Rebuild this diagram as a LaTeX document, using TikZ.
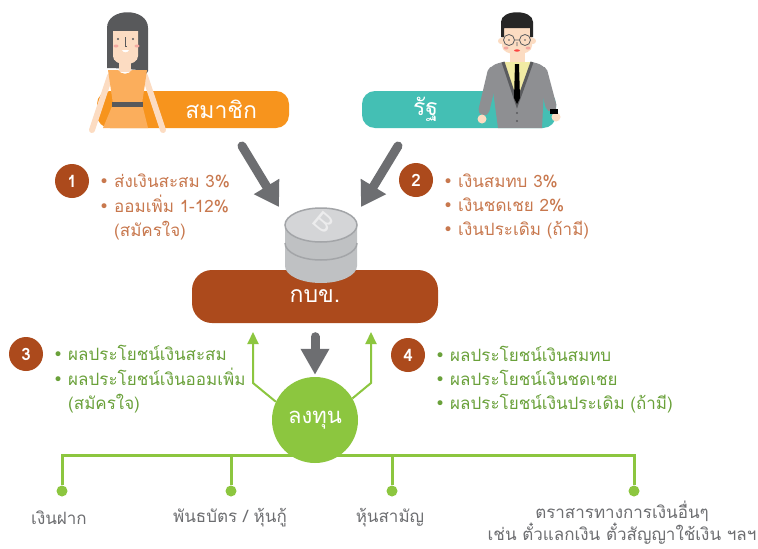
\documentclass[tikz,border=0pt]{standalone}
\usepackage{fontspec}
\setmainfont[Script=Thai]{Loma}
\newfontfamily\bulfont{DejaVu Sans}
\usetikzlibrary{arrows.meta,positioning}

\definecolor{memorange}{HTML}{F7941D}
\definecolor{stateteal}{HTML}{44BFB4}
\definecolor{rust}{HTML}{AC4A1C}
\definecolor{leaf}{HTML}{8CC63F}
\definecolor{arrowgray}{HTML}{6D6E71}
\definecolor{txtorange}{HTML}{C8784E}
\definecolor{txtgreen}{HTML}{6AA13A}
\definecolor{skin}{HTML}{FCDCC2}
\definecolor{hair}{HTML}{58595B}
\definecolor{dress}{HTML}{FBAE5C}
\definecolor{blush}{HTML}{F4A9A0}
\definecolor{suit}{HTML}{8E8F92}
\definecolor{lapel}{HTML}{5A5B5E}
\definecolor{shirt}{HTML}{F1EBA4}
\definecolor{coin}{HTML}{BFC1C3}
\definecolor{cointop}{HTML}{D4D5D7}
\definecolor{coinline}{HTML}{A3A5A8}

\newcommand{\bul}{{\bulfont •}}
\newcommand{\pillfont}{\fontsize{23}{23}\selectfont}
\newcommand{\listfont}{\fontsize{17}{24}\selectfont}

\begin{document}
\begin{tikzpicture}[x=1pt,y=-1pt,
  pill/.style={rounded corners=13pt, text=white, inner sep=0pt, font=\pillfont},
  num/.style={circle, fill=rust, minimum size=34pt, inner sep=0pt, text=white, font=\bfseries\fontsize{17}{17}\selectfont},
  list/.style={anchor=west, inner sep=0pt, font=\listfont},
  lbl/.style={inner sep=0pt, text=arrowgray, align=center, font=\fontsize{17}{19}\selectfont},
  bigarrow/.style={draw=arrowgray, line width=9pt, line cap=round, -{Triangle[length=24pt,width=28pt]}},
  backflow/.style={draw=leaf, line width=2pt, -{Triangle[length=12pt,width=11pt]}},
  branch/.style={draw=leaf, line width=3pt},
  dot/.style={circle, fill=leaf, minimum size=11pt, inner sep=0pt}]
\path[use as bounding box, fill=white] (0,0) rectangle (758,549);

% member
\node[pill, fill=memorange, minimum width=192pt, minimum height=37pt, text width=128pt, align=right] (mem) at (193,109.5) {สมาชิก};
\fill[hair] (107,68) -- (107,28) .. controls (107,7) and (148,7) .. (148,28) -- (148,71) -- (144,78) -- (139,70) -- (113,68) -- cycle;
\fill[skin] (113,31) -- (138,31) -- (138,56) .. controls (138,67) and (113,67) .. (113,56) -- cycle;
\fill[skin] (119,60) rectangle (131,72);
\draw[skin, line width=6pt, line cap=round] (110,76) -- (92,130) (145,76) -- (163,130);
\fill[dress] (108,70) -- (118,70) .. controls (121,75) and (129,75) .. (132,70) -- (147,70) -- (142,104) -- (148,128) -- (103,128) -- (113,104) -- cycle;
\fill[hair] (112,102) rectangle (143,107);
\fill[hair] (118,39) circle (1.2) (133,39) circle (1.2);
\draw[hair, line width=0.7pt] (125,37) -- (125,46) -- (127,46);
\fill[blush] (116,46) ellipse (2.5 and 1.5) (137,46) ellipse (2.5 and 1.5);
\fill[white] (122,50) -- (129,50) .. controls (128,53) and (123,53) .. cycle;

% state
\node[pill, fill=stateteal, minimum width=194pt, minimum height=37pt, text width=92pt, align=left] (state) at (459,109.5) {รัฐ};
\draw[suit, line width=11pt, line cap=round] (493,72) -- (484,110) (542,72) -- (551,106);
\fill[skin] (482,119) circle (4.5) (556,117) circle (4.5);
\fill[black] (550,109) rectangle (558,114);
\fill[suit] (490,68) .. controls (495,64) .. (503,62) -- (532,62) .. controls (540,64) .. (545,68) -- (542,128) -- (498,128) -- cycle;
\fill[skin] (510,50) rectangle (525,64);
\fill[shirt] (503,62) -- (532,62) -- (517,103) -- cycle;
\draw[lapel, line width=3pt] (503,62) -- (517,104) -- (532,62);
\fill[black] (515,64) -- (519,64) -- (520,98) -- (517,104) -- (514,98) -- cycle;
\fill[lapel] (517,113) circle (1.2) (517,121) circle (1.2);
\fill[skin] (501,41) circle (3) (533,41) circle (3);
\fill[skin] (502,24) -- (532,24) -- (532,46) .. controls (532,57) and (502,57) .. (502,46) -- cycle;
\fill[black!85] (501,37) -- (501,22) .. controls (501,9) and (533,9) .. (533,22) -- (533,37) -- (530,37) -- (530,28) -- (504,28) -- (504,37) -- cycle;
\fill[blush] (506,48) ellipse (2.5 and 1.5) (528,48) ellipse (2.5 and 1.5);
\draw[lapel, line width=0.8pt] (509,40) circle (5.5) (525,40) circle (5.5) (514.5,40) -- (519.5,40) (517,42) -- (517,46);
\fill[lapel] (509,40) circle (0.8) (525,40) circle (0.8);
\fill[red!60!blush] (517,50.5) ellipse (3 and 1.2);

% fund
\node[pill, fill=rust, rounded corners=20pt, minimum width=246pt, minimum height=53pt] (gbk) at (315,296.5) {กบข.};
\fill[coin] (285,225) -- (285,266) arc[start angle=180, end angle=0, x radius=36, y radius=17] -- (357,225) -- cycle;
\draw[coinline, line width=1.5pt] (285,243) arc[start angle=180, end angle=0, x radius=36, y radius=17];
\filldraw[fill=cointop, draw=coinline, line width=1.5pt] (321,225) ellipse [x radius=36, y radius=17];
\node[rotate=-40, yscale=0.8, text=white!55!cointop, font=\fontsize{30}{30}\selectfont] (bt) at (324,222) {B};

% contributions
\coordinate (s1) at (242,146);
\coordinate (t1) at (279,207);
\coordinate (s2) at (398,146);
\coordinate (t2) at (361,207);
\draw[bigarrow] (s1) -- (t1);
\draw[bigarrow] (s2) -- (t2);

% investment
\node[dot] (d1) at (62,491) {};
\node[dot] (d2) at (231,491) {};
\node[dot] (d3) at (392,491) {};
\node[dot] (d4) at (634,491) {};
\coordinate (bar) at (0,455);
\draw[branch] (d1) -- (d1 |- bar) -- (d4 |- bar) -- (d4);
\foreach \d in {d2,d3}
  \draw[branch] (\d) -- (\d |- bar);
\node[circle, fill=leaf, minimum size=86pt, inner sep=0pt, text=white, font=\fontsize{22}{22}\selectfont] (inv) at (315,420) {ลงทุน};
\draw[bigarrow, -{Triangle[length=26pt,width=27pt]}, shorten <=13.5pt, shorten >=2pt] (gbk.south) -- (inv.north);
\coordinate (k1) at (253,383);
\coordinate (r1) at (253,332);
\coordinate (k2) at (371,383);
\coordinate (r2) at (371,332);
\draw[backflow] (inv.155) -- (k1) -- (r1);
\draw[backflow] (inv.30) -- (k2) -- (r2);

% lists
\node[num] (n1) at (72,181) {1};
\node[num] (n2) at (416,180) {2};
\node[num] (n3) at (26,354) {3};
\node[num] (n4) at (408,355) {4};
\node[list, text=txtorange] (l1) at (99,207) {\begin{tabular}{@{}l@{\hspace{5pt}}l@{}}\bul & ส่งเงินสะสม 3\% \\ \bul & ออมเพิ่ม 1-12\% \\ & (สมัครใจ)\end{tabular}};
\node[list, text=txtorange] (l2) at (443,207) {\begin{tabular}{@{}l@{\hspace{5pt}}l@{}}\bul & เงินสมทบ 3\% \\ \bul & เงินชดเชย 2\% \\ \bul & เงินประเดิม (ถ้ามี)\end{tabular}};
\node[list, text=txtgreen] (l3) at (53,380) {\begin{tabular}{@{}l@{\hspace{5pt}}l@{}}\bul & ผลประโยชน์เงินสะสม \\ \bul & ผลประโยชน์เงินออมเพิ่ม \\ & (สมัครใจ)\end{tabular}};
\node[list, text=txtgreen] (l4) at (435,381) {\begin{tabular}{@{}l@{\hspace{5pt}}l@{}}\bul & ผลประโยชน์เงินสมทบ \\ \bul & ผลประโยชน์เงินชดเชย \\ \bul & ผลประโยชน์เงินประเดิม (ถ้ามี)\end{tabular}};

% labels under the assets
\node[lbl] (w1) at (59,518) {เงินฝาก};
\node[lbl] (w2) at (230,518) {พันธบัตร / หุ้นกู้};
\node[lbl] (w3) at (390,518) {หุ้นสามัญ};
\node[lbl] (w4) at (622,523) {ตราสารทางการเงินอื่นๆ\\เช่น ตั๋วแลกเงิน ตั๋วสัญญาใช้เงิน ฯลฯ};
\end{tikzpicture}
\end{document}
